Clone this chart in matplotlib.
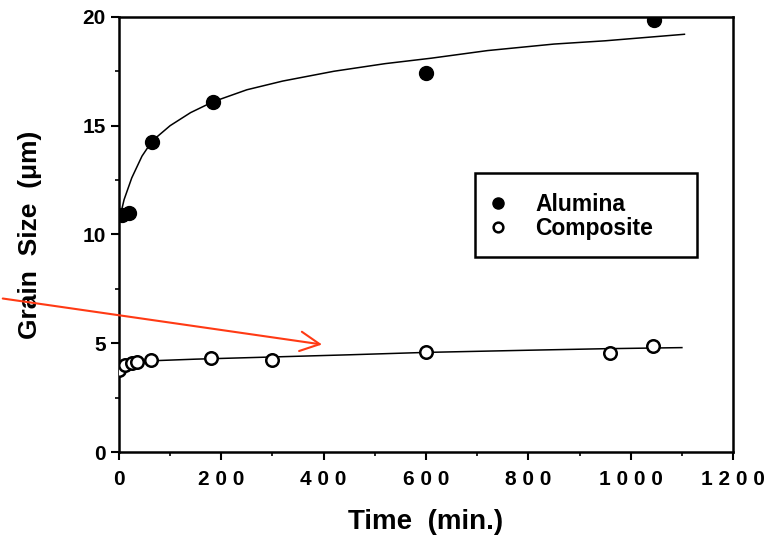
import numpy as np
import matplotlib.pyplot as plt
from matplotlib.patches import Rectangle, FancyArrowPatch
from matplotlib.ticker import MultipleLocator, FuncFormatter

plt.rcParams['font.family'] = ['Liberation Sans', 'DejaVu Sans']
plt.rcParams['font.weight'] = 'bold'
plt.rcParams['xtick.labelsize'] = 15
plt.rcParams['ytick.labelsize'] = 15

# measured points
alumina_t = [5, 20, 65, 184, 600, 1045]
alumina_d = [10.9, 11.0, 14.25, 16.1, 17.4, 19.85]
composite_t = [0, 12, 25, 35, 62, 180, 300, 600, 960, 1043]
composite_d = [3.77, 4.0, 4.1, 4.12, 4.22, 4.3, 4.23, 4.62, 4.55, 4.87]

# fitted curves
alumina_fit_t = [3, 10, 25, 45, 65, 100, 140, 184, 250, 320, 420, 520, 610, 720, 850, 950, 1105]
alumina_fit_d = [10.9, 11.6, 12.6, 13.6, 14.3, 15.0, 15.6, 16.1, 16.65, 17.05, 17.5, 17.85, 18.1, 18.45, 18.75, 18.9, 19.2]
composite_fit_t = [0, 8, 20, 40, 70, 150, 300, 450, 600, 800, 950, 1100]
composite_fit_d = [3.75, 3.95, 4.08, 4.15, 4.2, 4.27, 4.37, 4.47, 4.58, 4.68, 4.75, 4.8]

fig = plt.figure(figsize=(7.66, 5.44), dpi=100)
ax = fig.add_axes([0.1553, 0.169, 0.8017, 0.8])

ax.plot(alumina_fit_t, alumina_fit_d, color='black', lw=1.1, zorder=2)
ax.plot(composite_fit_t, composite_fit_d, color='black', lw=1.1, zorder=2)
ax.plot(alumina_t, alumina_d, 'o', color='black', ms=10, zorder=3)
ax.plot(composite_t, composite_d, 'o', mfc='white', mec='black', mew=1.8, ms=9, zorder=3)

ax.set_xlim(0, 1200)
ax.set_ylim(0, 20)
ax.xaxis.set_major_locator(MultipleLocator(200))
ax.xaxis.set_minor_locator(MultipleLocator(100))
ax.yaxis.set_major_locator(MultipleLocator(5))
ax.yaxis.set_minor_locator(MultipleLocator(2.5))
ax.xaxis.set_major_formatter(FuncFormatter(lambda v, p: ' '.join(str(int(v)))))
ax.tick_params(which='major', direction='out', length=6, width=1.5)
ax.tick_params(which='minor', direction='out', length=3, width=1.2)
ax.tick_params(axis='x', pad=7)
for s in ax.spines.values():
    s.set_linewidth(1.8)

ax.set_xlabel('Time  (min.)', fontsize=20, fontweight='bold')
ax.xaxis.set_label_coords(0.5, -0.13)
ax.xaxis.label.set_va('top')
ax.set_ylabel('Grain  Size  (\u03bcm)', fontsize=19, fontweight='bold')
ax.yaxis.set_label_coords(-0.125, 0.5)

# legend box
ax.add_patch(Rectangle((0.58, 0.448), 0.361, 0.193, transform=ax.transAxes,
                       fill=False, lw=1.8, ec='black', zorder=4))
ax.plot([], [], 'o', color='black', ms=8, label='Alumina')
ax.plot([], [], 'o', mfc='white', mec='black', mew=1.8, ms=7, label='Composite')
ax.legend(loc='upper left', bbox_to_anchor=(0.603, 0.595), frameon=False,
          prop={'size': 16.5, 'weight': 'bold'}, handlelength=0.8, handletextpad=1.2,
          labelspacing=0.05, borderaxespad=0, borderpad=0)

arrow = FancyArrowPatch((0.0, 0.452), (0.424, 0.366), transform=fig.transFigure,
                        arrowstyle='->,head_length=14,head_width=7', color='#ff3a14',
                        lw=1.5, mutation_scale=1)
fig.add_artist(arrow)

fig.savefig('out.png', dpi=100)
